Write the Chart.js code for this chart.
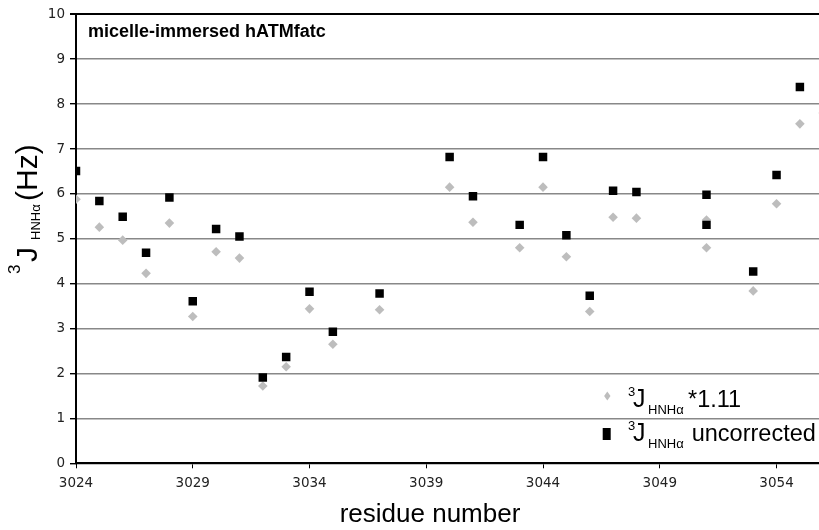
<!DOCTYPE html>
<html>
<head>
<meta charset="utf-8">
<script src="https://cdn.jsdelivr.net/npm/chart.js@4/dist/chart.umd.min.js"></script>
<style>
  html, body { margin: 0; padding: 0; background: #fff; overflow: hidden; }
  #wrap { width: 860px; height: 530px; }
</style>
</head>
<body>
<div id="wrap"><canvas id="chart" width="860" height="530"></canvas></div>
<script>
// residue numbers and measured coupling constants (Hz)
const residues     = [3024, 3025, 3026, 3027, 3028, 3029, 3030, 3031, 3032, 3033, 3034, 3035, 3037, 3040, 3041, 3043, 3044, 3045, 3046, 3047, 3048, 3051, 3051, 3053, 3054, 3055, 3056];
const jScaled      = [5.88, 5.26, 4.97, 4.23, 5.35, 3.27, 4.71, 4.57, 1.72, 2.15, 3.44, 2.65, 3.42, 6.15, 5.37, 4.80, 6.15, 4.60, 3.38, 5.48, 5.46, 5.42, 4.80, 3.84, 5.78, 7.56, 7.80];
const jUncorrected = [6.51, 5.84, 5.49, 4.69, 5.92, 3.61, 5.22, 5.05, 1.91, 2.37, 3.82, 2.93, 3.78, 6.82, 5.95, 5.31, 6.82, 5.08, 3.73, 6.07, 6.04, 5.98, 5.31, 4.27, 6.42, 8.38, null];

const xTicks = [3024, 3029, 3034, 3039, 3044, 3049, 3054];
const xMin = 3024, xMax = 3057;
const yMin = 0, yMax = 10;

const GRAY = '#bdbdbd';
const SANS = '"Liberation Sans", Arial, sans-serif';
const TICK_FONT = { family: '"DejaVu Sans", Verdana, sans-serif', size: 13.5 };

function points(ys) {
  return residues.map((x, i) => ({ x: x, y: ys[i] })).filter(p => p.y !== null);
}

// draws a run of text pieces (with sub/superscripts) starting at x,y
function drawRuns(ctx, x, y, runs) {
  runs.forEach(r => {
    ctx.font = r.font;
    ctx.fillText(r.text, x + r.dx, y + r.dy);
  });
}

const textPlugin = {
  id: 'labels',
  afterDraw(chart) {
    const ctx = chart.ctx;
    ctx.save();
    ctx.fillStyle = '#000';
    ctx.textAlign = 'left';
    ctx.textBaseline = 'alphabetic';

    // title inside plot
    ctx.font = 'bold 18px ' + SANS;
    ctx.fillText('micelle-immersed hATMfatc', 88, 36.7);

    // x axis title
    ctx.font = '26px ' + SANS;
    ctx.textAlign = 'center';
    ctx.fillText('residue number', 430, 522);
    ctx.textAlign = 'left';

    // y axis title, rotated
    ctx.save();
    ctx.translate(37, 274);
    ctx.rotate(-Math.PI / 2);
    drawRuns(ctx, 0, 0, [
      { text: '3', font: '17px ' + SANS, dx: 0, dy: -17 },
      { text: 'J', font: '30px ' + SANS, dx: 12, dy: 0 },
      { text: 'HNHα', font: '13px ' + SANS, dx: 34, dy: 3 },
      { text: '(Hz)', font: '30px ' + SANS, dx: 73, dy: 0 }
    ]);
    ctx.restore();

    // legend
    const ds = chart.data.datasets;
    ctx.fillStyle = ds[0].backgroundColor;
    ctx.beginPath();
    ctx.moveTo(607.3, 391.5);
    ctx.lineTo(610.5, 396);
    ctx.lineTo(607.3, 400.5);
    ctx.lineTo(604.1, 396);
    ctx.closePath();
    ctx.fill();
    ctx.fillStyle = ds[1].backgroundColor;
    ctx.fillRect(602.7, 428, 8, 12);

    ctx.fillStyle = '#000';
    const rows = [
      { y: 406.7, tail: '*1.11', tx: 688 },
      { y: 440.7, tail: 'uncorrected', tx: 691.7 }
    ];
    rows.forEach(row => {
      drawRuns(ctx, 628, row.y, [
        { text: '3', font: '13px ' + SANS, dx: 0, dy: -10.5 },
        { text: 'J', font: '25px ' + SANS, dx: 5, dy: 0 },
        { text: 'HNHα', font: '13px ' + SANS, dx: 20, dy: 7.6 },
        { text: row.tail, font: '23.5px ' + SANS, dx: row.tx - 628, dy: 0 }
      ]);
    });
    ctx.restore();
  }
};

new Chart(document.getElementById('chart'), {
  type: 'scatter',
  data: {
    datasets: [
      {
        label: '3J HNHα *1.11',
        data: points(jScaled),
        backgroundColor: GRAY,
        borderWidth: 0,
        pointStyle: 'rectRot',
        pointRadius: 4.8,
        order: 2
      },
      {
        label: '3J HNHα uncorrected',
        data: points(jUncorrected),
        backgroundColor: '#000',
        borderWidth: 0,
        pointStyle: 'rect',
        pointRadius: 6,
        order: 1
      }
    ]
  },
  options: {
    responsive: false,
    animation: false,
    events: [],
    layout: { padding: { left: 0, top: 14.3, right: 13.4, bottom: 0 } },
    plugins: {
      legend: { display: false },
      tooltip: { enabled: false }
    },
    scales: {
      x: {
        type: 'linear',
        min: xMin,
        max: xMax,
        afterBuildTicks: scale => { scale.ticks = xTicks.map(v => ({ value: v })); },
        afterFit: scale => { scale.height = 66.7; },
        border: { color: '#000', width: 2 },
        grid: { drawOnChartArea: false, drawTicks: true, tickLength: 5, tickColor: '#000' },
        ticks: { font: TICK_FONT, color: '#222', padding: 7, maxRotation: 0, callback: v => String(v) }
      },
      y: {
        min: yMin,
        max: yMax,
        afterFit: scale => { scale.width = 76; },
        border: { color: '#000', width: 2 },
        grid: {
          color: c => c.tick && c.tick.value === yMax ? '#000' : '#888888',
          lineWidth: c => c.tick && c.tick.value === yMax ? 2 : 1.4,
          drawTicks: true,
          tickLength: 6,
          tickColor: '#000'
        },
        ticks: { stepSize: 1, font: TICK_FONT, color: '#222', padding: 5 }
      }
    }
  },
  plugins: [textPlugin]
});
</script>
</body>
</html>
